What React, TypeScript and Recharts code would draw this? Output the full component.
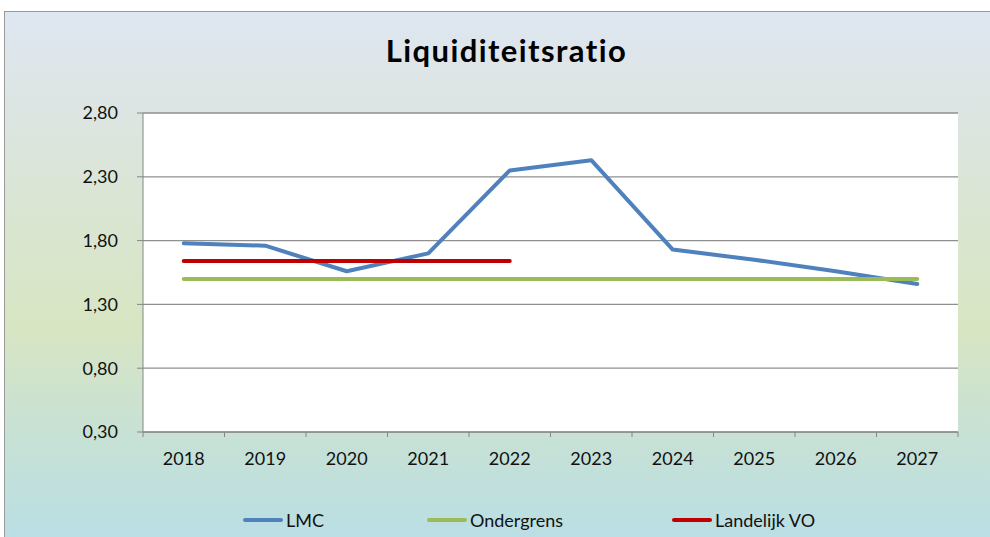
import { CartesianGrid, Line, LineChart, XAxis, YAxis } from "recharts"

// chart values
const years = ["2018", "2019", "2020", "2021", "2022", "2023", "2024", "2025", "2026", "2027"]
const lmc = [1.78, 1.76, 1.56, 1.7, 2.35, 2.43, 1.73, 1.65, 1.56, 1.46]
const ondergrens = [1.5, 1.5, 1.5, 1.5, 1.5, 1.5, 1.5, 1.5, 1.5, 1.5]
const landelijkVO = [1.64, 1.64, 1.64, 1.64, 1.64, null, null, null, null, null]
const yTicks = [0.3, 0.8, 1.3, 1.8, 2.3, 2.8]

const series = [
  { key: "LMC", values: lmc, color: "#4F81BD" },
  { key: "Ondergrens", values: ondergrens, color: "#9BBB59" },
  { key: "Landelijk VO", values: landelijkVO, color: "#C00000" },
]

const data = years.map((year, i) => ({
  year,
  LMC: lmc[i],
  Ondergrens: ondergrens[i],
  "Landelijk VO": landelijkVO[i],
}))

const FONT = "Lato, 'Open Sans', sans-serif"
const PLOT_LEFT = 143
const PLOT_RIGHT = 958
const BAND = (PLOT_RIGHT - PLOT_LEFT) / years.length

// excel style: tick marks between categories, label in the middle
function XTick(props: any) {
  const { x, y, payload, index } = props
  const last = index === years.length - 1
  return (
    <g>
      <line x1={x - BAND / 2} y1={y} x2={x - BAND / 2} y2={y + 5} stroke="#868686" />
      {last && <line x1={x + BAND / 2} y1={y} x2={x + BAND / 2} y2={y + 5} stroke="#868686" />}
      <text x={x} y={y + 33} textAnchor="middle" fontSize={18} fontFamily={FONT} fill="#111">
        {payload.value}
      </text>
    </g>
  )
}

const legendPos = [243, 427, 672]

export default function App() {
  return (
    <div style={{ position: "absolute", left: 0, top: 0, width: 990, height: 537, overflow: "hidden", background: "#fff" }}>
      <div
        style={{
          position: "absolute",
          left: 4,
          top: 11,
          width: 1000,
          height: 540,
          border: "1px solid #9a9a9a",
          background: "linear-gradient(180deg, #DEE6F1 0%, #DCE5DC 25%, #D8E5C3 58%, #C6E1D6 80%, #B8DEE6 100%)",
        }}
      />
      <div
        style={{
          position: "absolute",
          left: 0,
          top: 35,
          width: 1013,
          textAlign: "center",
          fontFamily: FONT,
          fontWeight: 700,
          fontSize: 31,
          letterSpacing: 1.4,
          lineHeight: "31px",
          color: "#000",
        }}
      >
        Liquiditeitsratio
      </div>
      <div style={{ position: "absolute", left: 0, top: 0 }}>
        <LineChart width={990} height={537} data={data} margin={{ top: 113, right: 32, left: 0, bottom: 0 }}>
          <CartesianGrid vertical={false} stroke="#8f8f8f" strokeWidth={1.3} fill="#fff" />
          <XAxis
            dataKey="year"
            height={105}
            padding={{ left: BAND / 2, right: BAND / 2 }}
            axisLine={{ stroke: "#868686" }}
            tickLine={false}
            tickSize={0}
            tickMargin={0}
            tick={<XTick />}
            interval={0}
          />
          <YAxis
            width={PLOT_LEFT}
            domain={[0.3, 2.8]}
            ticks={yTicks}
            axisLine={{ stroke: "#868686" }}
            tickLine={{ stroke: "#868686" }}
            tickSize={6}
            tickMargin={19}
            tick={{ fontSize: 18, fontFamily: FONT, fill: "#111" }}
            tickFormatter={(v: number) => v.toFixed(2).replace(".", ",")}
          />
          {series.map((s) => (
            <Line
              key={s.key}
              dataKey={s.key}
              stroke={s.color}
              strokeWidth={4}
              strokeLinecap="round"
              strokeLinejoin="round"
              dot={false}
              activeDot={false}
              type="linear"
              isAnimationActive={false}
            />
          ))}
        </LineChart>
      </div>
      {series.map((s, i) => (
        <div
          key={s.key}
          style={{
            position: "absolute",
            left: legendPos[i],
            top: 508,
            height: 24,
            display: "flex",
            alignItems: "center",
            fontFamily: FONT,
            fontSize: 18,
            color: "#111",
          }}
        >
          <span style={{ display: "inline-block", width: 40, height: 4, borderRadius: 2, background: s.color, marginRight: 3 }} />
          {s.key}
        </div>
      ))}
    </div>
  )
}
